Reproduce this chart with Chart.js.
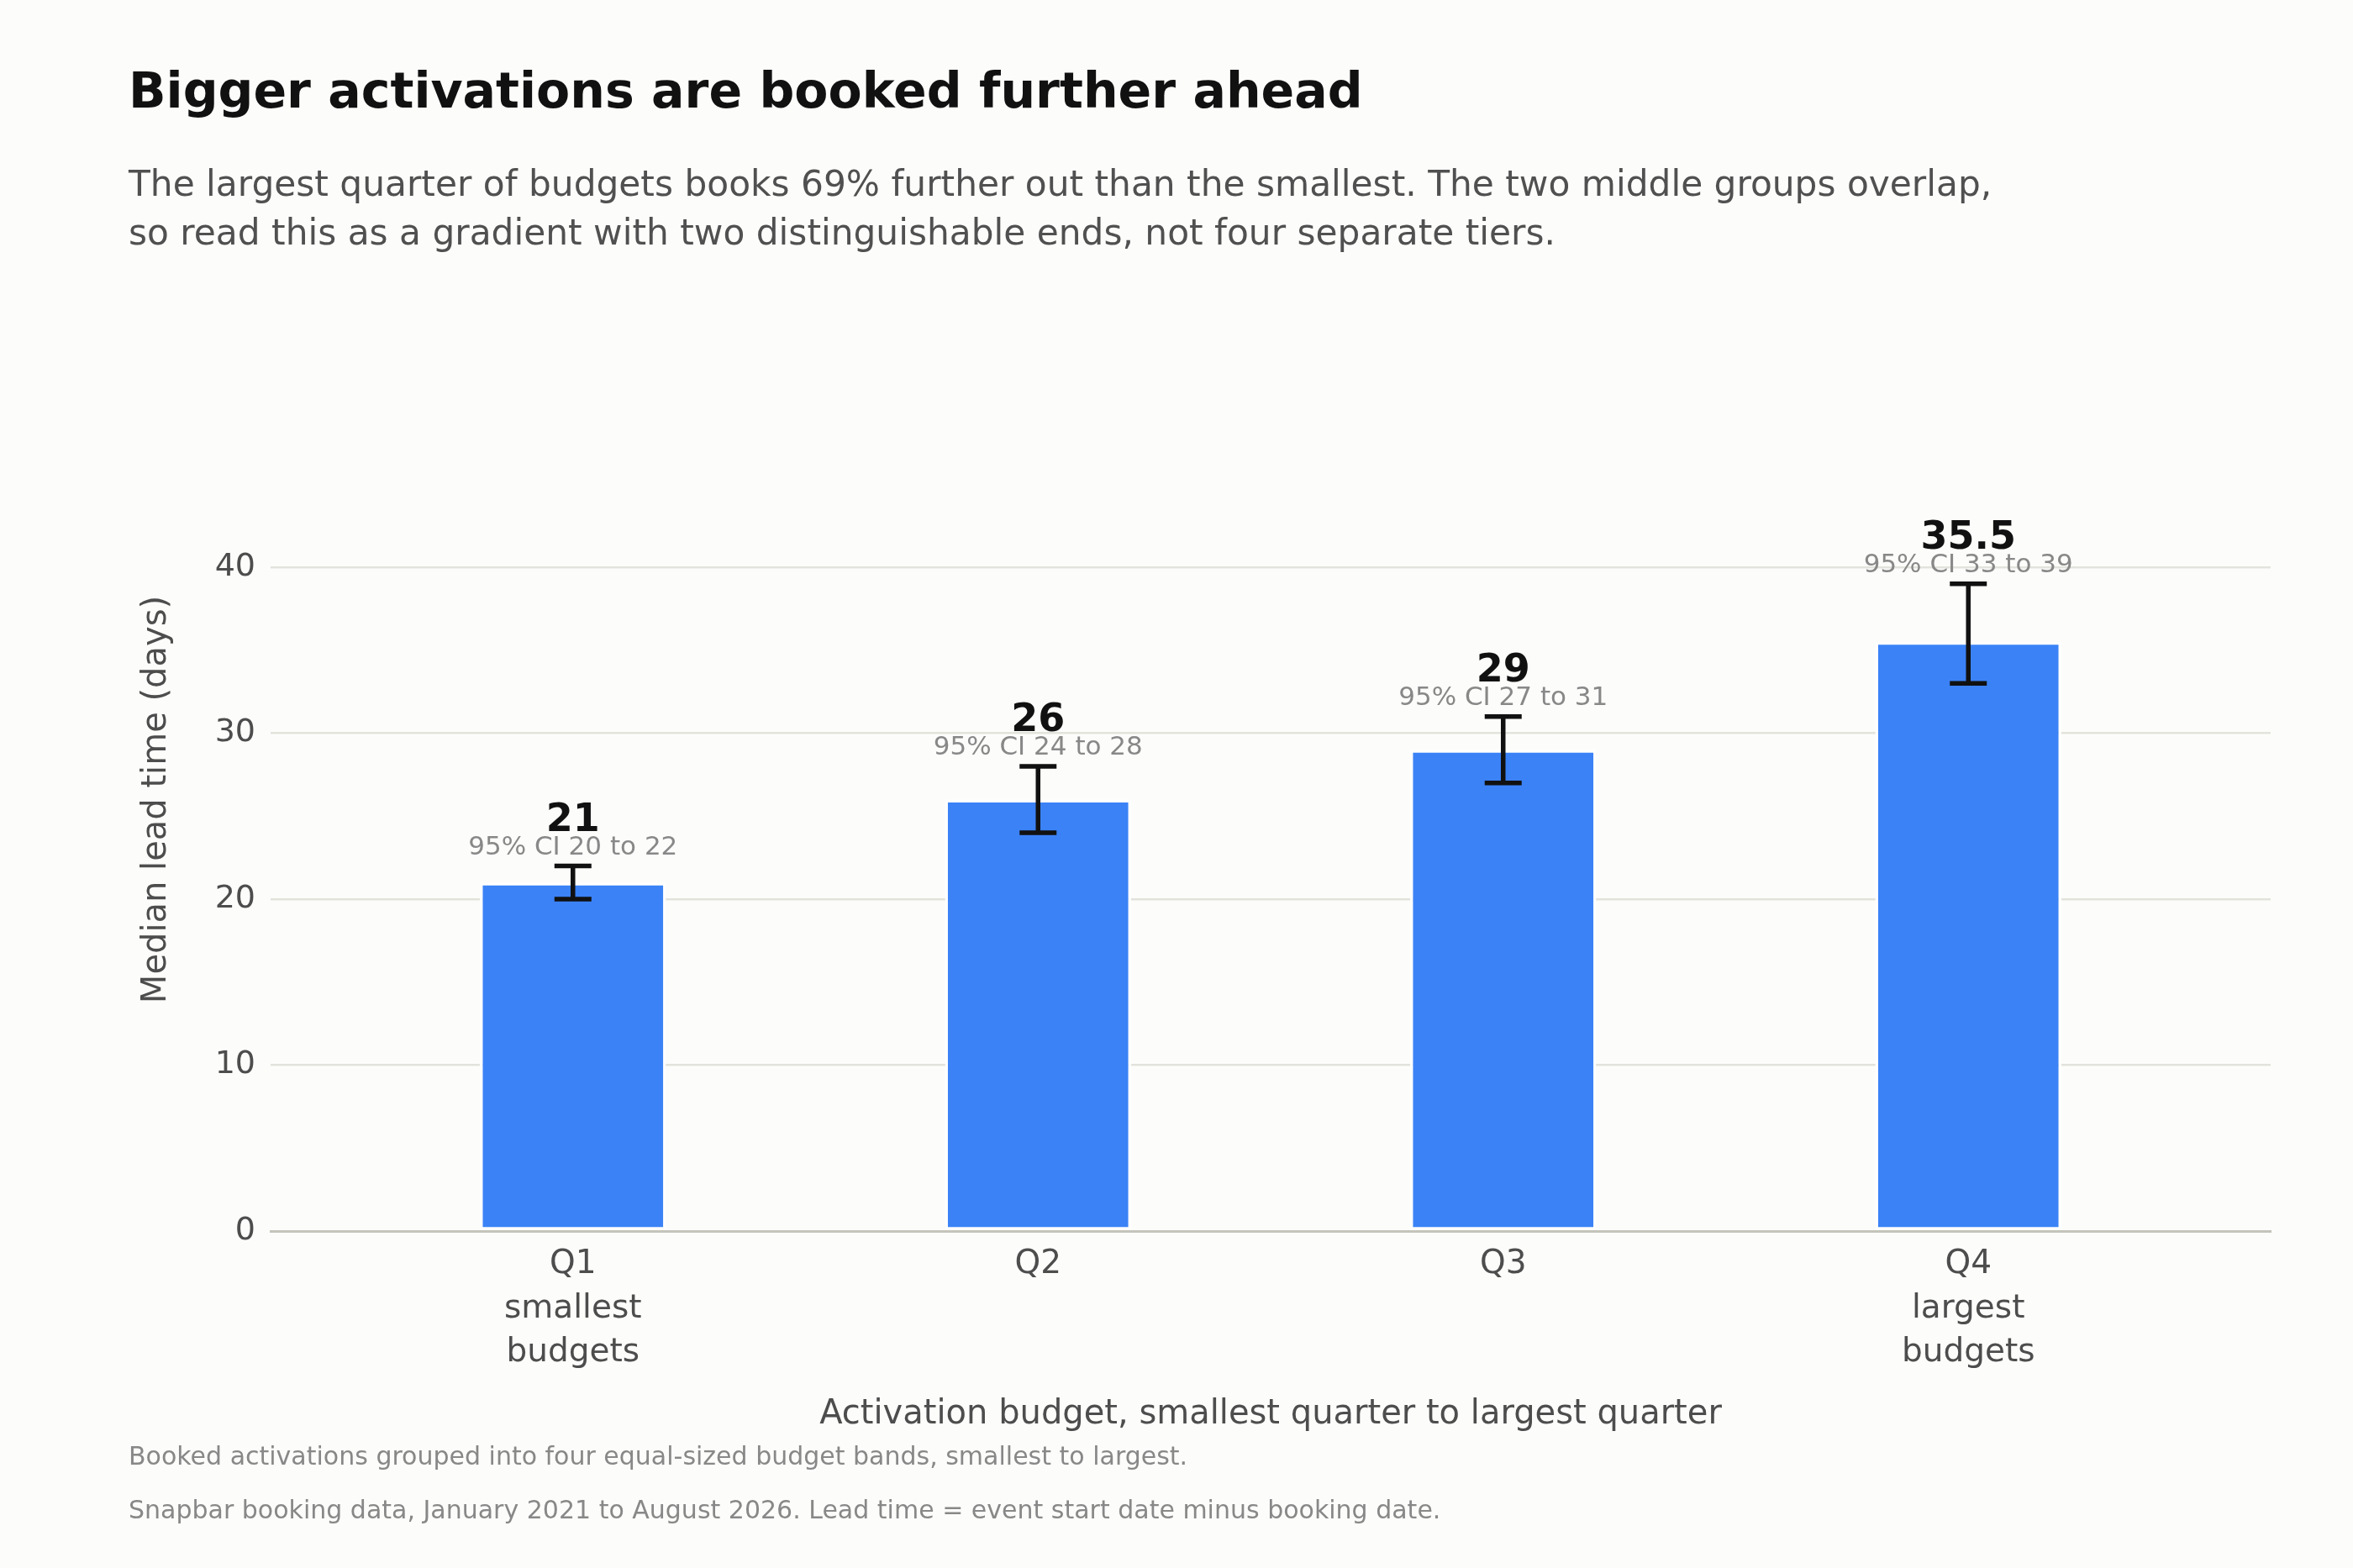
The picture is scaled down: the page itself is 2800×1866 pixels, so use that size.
<!DOCTYPE html>
<html>
<head>
<meta charset="utf-8">
<script src="https://cdn.jsdelivr.net/npm/chart.js@4.4.1/dist/chart.umd.min.js"></script>
<style>
  html, body { margin: 0; padding: 0; background: #fcfcfa; }
  body { width: 2800px; height: 1866px; position: relative; overflow: hidden; font-family: "DejaVu Sans", sans-serif; }
  #chart { position: absolute; left: 0; top: 0; }
  .txt { position: absolute; left: 153px; white-space: nowrap; }
  #title { top: 73px; font-size: 58.5px; line-height: 71px; font-weight: bold; color: #111; }
  #subtitle { top: 190px; font-size: 42.3px; line-height: 58px; color: #505050; }
  .note { font-size: 30px; line-height: 30px; color: #888; }
</style>
</head>
<body>
<canvas id="chart" width="2800" height="1866"></canvas>
<div id="title" class="txt">Bigger activations are booked further ahead</div>
<div id="subtitle" class="txt">The largest quarter of budgets books 69% further out than the smallest. The two middle groups overlap,<br>so read this as a gradient with two distinguishable ends, not four separate tiers.</div>
<div class="txt note" style="top: 1718px">Booked activations grouped into four equal-sized budget bands, smallest to largest.</div>
<div class="txt note" style="top: 1782px">Snapbar booking data, January 2021 to August 2026. Lead time = event start date minus booking date.</div>

<script>
// Chart data
const categories = ["Q1", "Q2", "Q3", "Q4"];
const xTickLabels = [["Q1", "smallest", "budgets"], ["Q2"], ["Q3"], ["Q4", "largest", "budgets"]];
const medianDays = [21, 26, 29, 35.5];
const valueLabels = ["21", "26", "29", "35.5"];
const ciLow = [20, 24, 27, 33];
const ciHigh = [22, 28, 31, 39];
const yTicks = [0, 10, 20, 30, 40];

const inkColor = "#4d4d4d";
Chart.defaults.font.family = "'DejaVu Sans', sans-serif";

// Error bars plus the value / CI labels above each bar
const errorBarPlugin = {
  id: "errorBars",
  afterDatasetsDraw(chart) {
    const { ctx, scales: { x, y } } = chart;
    ctx.save();
    categories.forEach((cat, i) => {
      const px = x.getPixelForValue(i);
      const top = y.getPixelForValue(ciHigh[i]);
      const bottom = y.getPixelForValue(ciLow[i]);

      ctx.strokeStyle = "#111";
      ctx.lineWidth = 5.5;
      ctx.beginPath();
      ctx.moveTo(px, top);
      ctx.lineTo(px, bottom);
      ctx.moveTo(px - 22, top);
      ctx.lineTo(px + 22, top);
      ctx.moveTo(px - 22, bottom);
      ctx.lineTo(px + 22, bottom);
      ctx.stroke();

      ctx.textAlign = "center";
      ctx.textBaseline = "alphabetic";
      ctx.fillStyle = "#888";
      ctx.font = "31px 'DejaVu Sans'";
      ctx.fillText("95% CI " + ciLow[i] + " to " + ciHigh[i], px, top - 14);
      ctx.fillStyle = "#111";
      ctx.font = "bold 46px 'DejaVu Sans'";
      ctx.fillText(valueLabels[i], px, top - 42);
    });
    ctx.restore();
  },
};

const padBottom = 158;

new Chart(document.getElementById("chart"), {
  type: "bar",
  data: {
    datasets: [
      {
        data: medianDays.map((v, i) => ({ x: i, y: v })),
        backgroundColor: "#3b82f6",
        borderColor: "#ffffff",
        borderWidth: 3.4,
        borderSkipped: false,
        categoryPercentage: 1,
        barPercentage: 0.4,
      },
    ],
  },
  options: {
    responsive: false,
    animation: false,
    devicePixelRatio: 1,
    layout: { padding: { left: 0, top: 438, right: 98, bottom: padBottom } },
    plugins: { legend: { display: false }, tooltip: { enabled: false } },
    scales: {
      x: {
        type: "linear",
        min: -0.65,
        max: 3.65,
        bounds: "data",
        offset: false,
        afterBuildTicks: (axis) => {
          axis.ticks = categories.map((c, i) => ({ value: i }));
        },
        afterFit: (axis) => {
          axis.height = 1866 - padBottom - 1465;
        },
        grid: { display: false, offset: false },
        border: { display: true, color: "#c4c4bc", width: 3, z: 1 },
        ticks: {
          callback: (v) => xTickLabels[v],
          color: inkColor,
          font: { size: 39, lineHeight: 52.5 / 39 },
          padding: 6,
          maxRotation: 0,
          autoSkip: false,
        },
        title: {
          display: true,
          text: "Activation budget, smallest quarter to largest quarter",
          color: inkColor,
          font: { size: 40 },
          padding: { top: 0, bottom: 0 },
        },
      },
      y: {
        min: 0,
        max: 52,
        bounds: "data",
        afterBuildTicks: (axis) => {
          axis.ticks = yTicks.map((v) => ({ value: v }));
        },
        afterFit: (axis) => {
          axis.width = 322;
        },
        grid: { color: "#e3e3dd", lineWidth: 2.5, drawTicks: false },
        border: { display: false },
        ticks: { color: inkColor, font: { size: 38 }, padding: 18 },
        title: {
          display: true,
          text: "Median lead time (days)",
          color: inkColor,
          font: { size: 40 },
          padding: { top: 163, bottom: 0 },
        },
      },
    },
  },
  plugins: [errorBarPlugin],
});
</script>
</body>
</html>
